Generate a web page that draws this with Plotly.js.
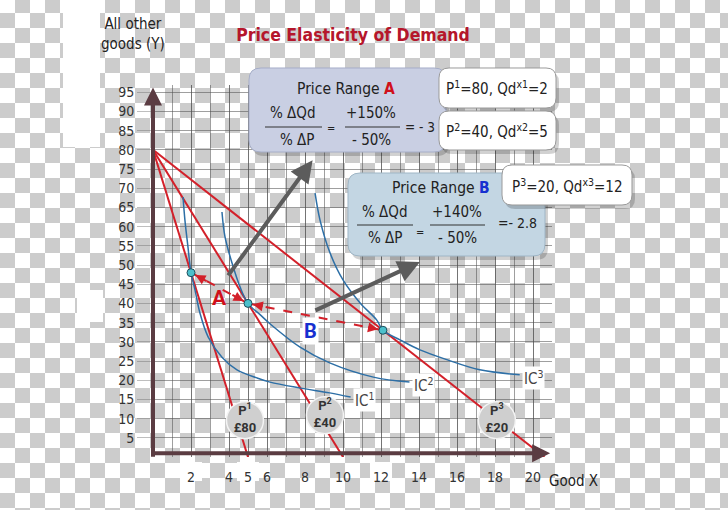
<!DOCTYPE html>
<html><head><meta charset="utf-8">
<script src="https://cdn.plot.ly/plotly-3.0.1.min.js"></script>
<style>
html,body{margin:0;padding:0;}
body{width:728px;height:510px;overflow:hidden;background:repeating-conic-gradient(#cccccc 0% 25%, #ffffff 0% 50%) 0 -2px/30px 30px;}
#chart{width:728px;height:510px;}
</style></head><body><div id="chart"></div>
<script>
// ---- data ----
const xTicks = [2, 4, 5, 6, 8, 10, 12, 14, 16, 18, 20];
const yTicks = [5, 10, 15, 20, 25, 30, 35, 40, 45, 50, 55, 60, 65, 70, 75, 80, 85, 90, 95];
const incomeY = 80;
const xIntercepts = [5, 10, 20.6];
const priceTags = ['<b>P<sup>1</sup><br>£80</b>', '<b>P<sup>2</sup><br>£40</b>', '<b>P<sup>3</sup><br>£20</b>'];
const tagX = [4.84, 9.05, 18.1];
const tagY = [9.6, 10.9, 9.6];
const optX = [2, 5, 12.1];
const optY = [48, 40, 33.0];
const ic1X = [1.58, 1.68, 1.84, 2.0, 2.21, 2.47, 2.9, 3.63, 4.42, 5.47, 6.16, 7.7, 9.3, 10.4];
const ic1Y = [67.7, 61.7, 54.7, 48, 43.5, 37.5, 31.3, 26.0, 22.7, 20.6, 19.5, 18.0, 16.7, 15.6];
const ic2X = [3.63, 3.79, 4.16, 4.58, 5.0, 5.65, 6.2, 7.74, 9.3, 11.6, 13.5];
const ic2Y = [63.8, 57.3, 50.5, 44.3, 40.0, 37.0, 34.5, 28.6, 24.5, 20.8, 19.5];
const ic3X = [8.53, 8.79, 9.32, 10.0, 10.9, 11.77, 12.1, 13.0, 14.05, 15.5, 17.2, 19.3];
const ic3Y = [68.7, 61.7, 53.1, 46.1, 40.1, 35.7, 33.0, 30.5, 27.9, 25.3, 22.7, 21.4];
const icLabels = ['IC<sup>1</sup>', 'IC<sup>2</sup>', 'IC<sup>3</sup>'];

// ---- layout helpers (pixel -> paper) ----
const L = 153, T = 85, W = 399, H = 372;
const px = v => (v - L) / W;
const py = v => (T + H - v) / H;
const FONT = '"Liberation Sans Narrow", "DejaVu Sans Condensed", "Roboto", sans-serif';
const RED = '#d3202a', BLUE = '#2d6fa6', AXC = '#5b3c42', GRID = 'rgba(80,80,80,0.55)';

function rrect(x0, y0, x1, y1, r) {
  const X = v => px(v).toFixed(5), Y = v => py(v).toFixed(5);
  return `M${X(x0 + r)},${Y(y0)} L${X(x1 - r)},${Y(y0)} Q${X(x1)},${Y(y0)} ${X(x1)},${Y(y0 + r)} ` +
    `L${X(x1)},${Y(y1 - r)} Q${X(x1)},${Y(y1)} ${X(x1 - r)},${Y(y1)} L${X(x0 + r)},${Y(y1)} ` +
    `Q${X(x0)},${Y(y1)} ${X(x0)},${Y(y1 - r)} L${X(x0)},${Y(y0 + r)} Q${X(x0)},${Y(y0)} ${X(x0 + r)},${Y(y0)} Z`;
}
function box(x0, y0, x1, y1, r, fill, line) {
  return [
    {type: 'path', xref: 'paper', yref: 'paper', path: rrect(x0 + 3, y0 + 4, x1 + 3, y1 + 4, r), fillcolor: 'rgba(0,0,0,0.18)', line: {width: 0}, layer: 'above'},
    {type: 'path', xref: 'paper', yref: 'paper', path: rrect(x0, y0, x1, y1, r), fillcolor: fill, line: {color: line, width: 1}, layer: 'above'}
  ];
}
function hline(x0, x1, y) {
  return {type: 'line', xref: 'paper', yref: 'paper', x0: px(x0), x1: px(x1), y0: py(y), y1: py(y), line: {color: '#333', width: 1.2}, layer: 'above'};
}
function txt(x, y, text, size, extra) {
  return Object.assign({xref: 'paper', yref: 'paper', x: px(x), y: py(y), text: text, showarrow: false,
    xanchor: 'center', yanchor: 'middle', font: {family: FONT, size: size, color: '#222'}}, extra || {});
}

// ---- traces ----
const traces = [];
xIntercepts.forEach(xi => traces.push({x: [0, xi], y: [incomeY, 0], mode: 'lines', line: {color: RED, width: 2}, hoverinfo: 'skip'}));
[[ic1X, ic1Y], [ic2X, ic2Y], [ic3X, ic3Y]].forEach(c => traces.push({x: c[0], y: c[1], mode: 'lines', line: {color: BLUE, width: 1.5, shape: 'spline'}, hoverinfo: 'skip'}));
traces.push({x: tagX, y: tagY, text: priceTags, mode: 'markers+text', textposition: 'middle center',
  marker: {size: 37, color: '#cfcfcf', line: {color: '#f4f4f4', width: 1.5}},
  textfont: {family: 'Roboto, sans-serif', size: 13, color: '#333'}, hoverinfo: 'skip'});
for (let i = 0; i < 2; i++) {
  traces.push({x: [optX[i], optX[i + 1]], y: [optY[i], optY[i + 1]], mode: 'lines', line: {color: RED, width: 2, dash: 'dash'}, hoverinfo: 'skip'});
}
traces.push({x: optX, y: optY, mode: 'markers', marker: {size: 8, color: '#4cc0cc', line: {color: '#1f4e5c', width: 1}}, hoverinfo: 'skip'});

// ---- shapes ----
const shapes = [
  {type: 'rect', xref: 'paper', yref: 'paper', x0: px(63), x1: px(100), y0: py(147), y1: py(0), fillcolor: '#fff', line: {width: 0}, layer: 'below'},
  {type: 'rect', xref: 'paper', yref: 'paper', x0: px(77), x1: px(103), y0: py(322), y1: py(290), fillcolor: '#fff', line: {width: 0}, layer: 'below'}
];
optX.forEach(v => shapes.push({type: 'rect', xref: 'x', yref: 'paper', x0: Math.round(v) - 0.58, x1: Math.round(v) + 0.58, y0: py(481), y1: py(462), fillcolor: '#fff', line: {width: 0}, layer: 'below'}));
shapes.push(...box(249, 68, 446, 152, 12, '#c9cfe3', '#a6aec8'));
shapes.push(...box(439, 68, 556, 108, 10, '#ffffff', '#9a9a9a'));
shapes.push(...box(439, 111, 556, 150, 10, '#ffffff', '#9a9a9a'));
shapes.push(...box(348, 173, 545, 256, 12, '#c3d6e3', '#9fb6c6'));
shapes.push(...box(502, 165, 632, 205, 10, '#ffffff', '#9a9a9a'));
shapes.push(hline(265, 322, 127), hline(345, 400, 127), hline(357, 413, 225), hline(430, 485, 225));

// ---- annotations ----
const anns = [
  txt(133, 34, 'All other<br>goods (Y)', 15),
  txt(573, 481, 'Good X', 15),
  txt(346, 89, 'Price Range <b><span style="color:#d0101a">A</span></b>', 15.5),
  txt(293, 113, '% ΔQd', 15), txt(297, 140, '% ΔP', 15), txt(331, 128, '=', 11),
  txt(371, 113, '+150%', 15), txt(371, 140, '- 50%', 15), txt(420, 127, '= - 3', 13.5),
  txt(497, 88, 'P<sup>1</sup>=80, Qd<sup>x1</sup>=2', 15),
  txt(497, 131, 'P<sup>2</sup>=40, Qd<sup>x2</sup>=5', 15),
  txt(441, 188, 'Price Range <b><span style="color:#1730d0">B</span></b>', 15.5),
  txt(385, 212, '% ΔQd', 15), txt(385, 238, '% ΔP', 15), txt(420, 232, '=', 11),
  txt(457, 212, '+140%', 15), txt(457, 238, '- 50%', 15), txt(517, 223, '=- 2.8', 14),
  txt(567, 186, 'P<sup>3</sup>=20, Qd<sup>x3</sup>=12', 15),
  txt(219, 298, '<b>A</b>', 21, {font: {family: 'Roboto, sans-serif', size: 21, color: '#d0101a'}}),
  txt(310, 331, '<b>B</b>', 20, {font: {family: 'Roboto, sans-serif', size: 20, color: '#1730d0'}, bgcolor: '#fff'}),
  // axis arrows
  {x: 0, y: 96.2, ax: 0, ay: -0.3, xref: 'x', yref: 'y', axref: 'x', ayref: 'y', showarrow: true, arrowhead: 2, arrowsize: 0.9, arrowwidth: 4, arrowcolor: AXC, text: ''},
  {x: 20.9, y: 1, ax: -0.1, ay: 1, xref: 'x', yref: 'y', axref: 'x', ayref: 'y', showarrow: true, arrowhead: 2, arrowsize: 0.9, arrowwidth: 4, arrowcolor: AXC, text: ''},
  // grey pointers
  {x: 8.4, y: 77.3, ax: 3.9, ay: 46.9, xref: 'x', yref: 'y', axref: 'x', ayref: 'y', showarrow: true, arrowhead: 2, arrowsize: 1.1, arrowwidth: 4, arrowcolor: '#5c5c5c', text: ''},
  {x: 14.05, y: 50.8, ax: 8.47, ay: 38, xref: 'x', yref: 'y', axref: 'x', ayref: 'y', showarrow: true, arrowhead: 2, arrowsize: 1.1, arrowwidth: 4, arrowcolor: '#5c5c5c', text: ''}
];
// red double arrowheads on dashed segments
for (let i = 0; i < 2; i++) {
  const a = [optX[i], optY[i]], b = [optX[i + 1], optY[i + 1]];
  const f = i === 0 ? 0.3 : 0.12;
  anns.push({x: a[0], y: a[1], ax: a[0] + (b[0] - a[0]) * f, ay: a[1] + (b[1] - a[1]) * f, xref: 'x', yref: 'y', axref: 'x', ayref: 'y', showarrow: true, arrowhead: 2, arrowsize: 1, arrowwidth: 2, standoff: 5, arrowcolor: RED, text: ''});
  anns.push({x: b[0], y: b[1], ax: b[0] - (b[0] - a[0]) * f, ay: b[1] - (b[1] - a[1]) * f, xref: 'x', yref: 'y', axref: 'x', ayref: 'y', showarrow: true, arrowhead: 2, arrowsize: 1, arrowwidth: 2, standoff: 5, arrowcolor: RED, text: ''});
}
[[ic1X, ic1Y], [ic2X, ic2Y], [ic3X, ic3Y]].forEach((c, i) => {
  anns.push({x: c[0][c[0].length - 1], y: c[1][c[1].length - 1], xref: 'x', yref: 'y', text: icLabels[i], showarrow: false,
    xanchor: 'left', yanchor: 'middle', xshift: 2, yshift: -3, bgcolor: '#fff', borderpad: 1,
    font: {family: FONT, size: 15, color: '#444'}});
});

const layout = {
  width: 728, height: 510,
  margin: {l: L, r: 728 - L - W, t: T, b: 510 - T - H, pad: 0},
  paper_bgcolor: 'rgba(0,0,0,0)', plot_bgcolor: 'rgba(0,0,0,0)',
  showlegend: false,
  title: {text: '<b>Price Elasticity of Demand</b>', x: 353 / 728, xanchor: 'center', y: 1 - 35 / 510, yanchor: 'middle',
    font: {family: FONT, size: 17.5, color: '#b5162b'}},
  xaxis: {range: [0, 21], tickvals: xTicks, ticktext: xTicks.map(String), showgrid: true, gridcolor: GRID, gridwidth: 1,
    minor: {dtick: 1, tick0: 0, showgrid: true, gridcolor: GRID, gridwidth: 1},
    zeroline: false, showline: false, ticks: 'outside', ticklen: 7, tickcolor: 'rgba(0,0,0,0)',
    tickfont: {family: FONT, size: 14, color: '#333'}, fixedrange: true},
  yaxis: {range: [0, H / 3.84], tickvals: yTicks, ticktext: yTicks.map(String), showgrid: true, gridcolor: GRID, gridwidth: 1,
    zeroline: false, showline: false, ticks: 'outside', ticklen: 15, tickcolor: 'rgba(110,110,110,0.45)',
    tickfont: {family: FONT, size: 14, color: '#333'}, fixedrange: true},
  shapes: shapes,
  annotations: anns
};
Plotly.newPlot('chart', traces, layout, {staticPlot: true});
</script></body></html>
